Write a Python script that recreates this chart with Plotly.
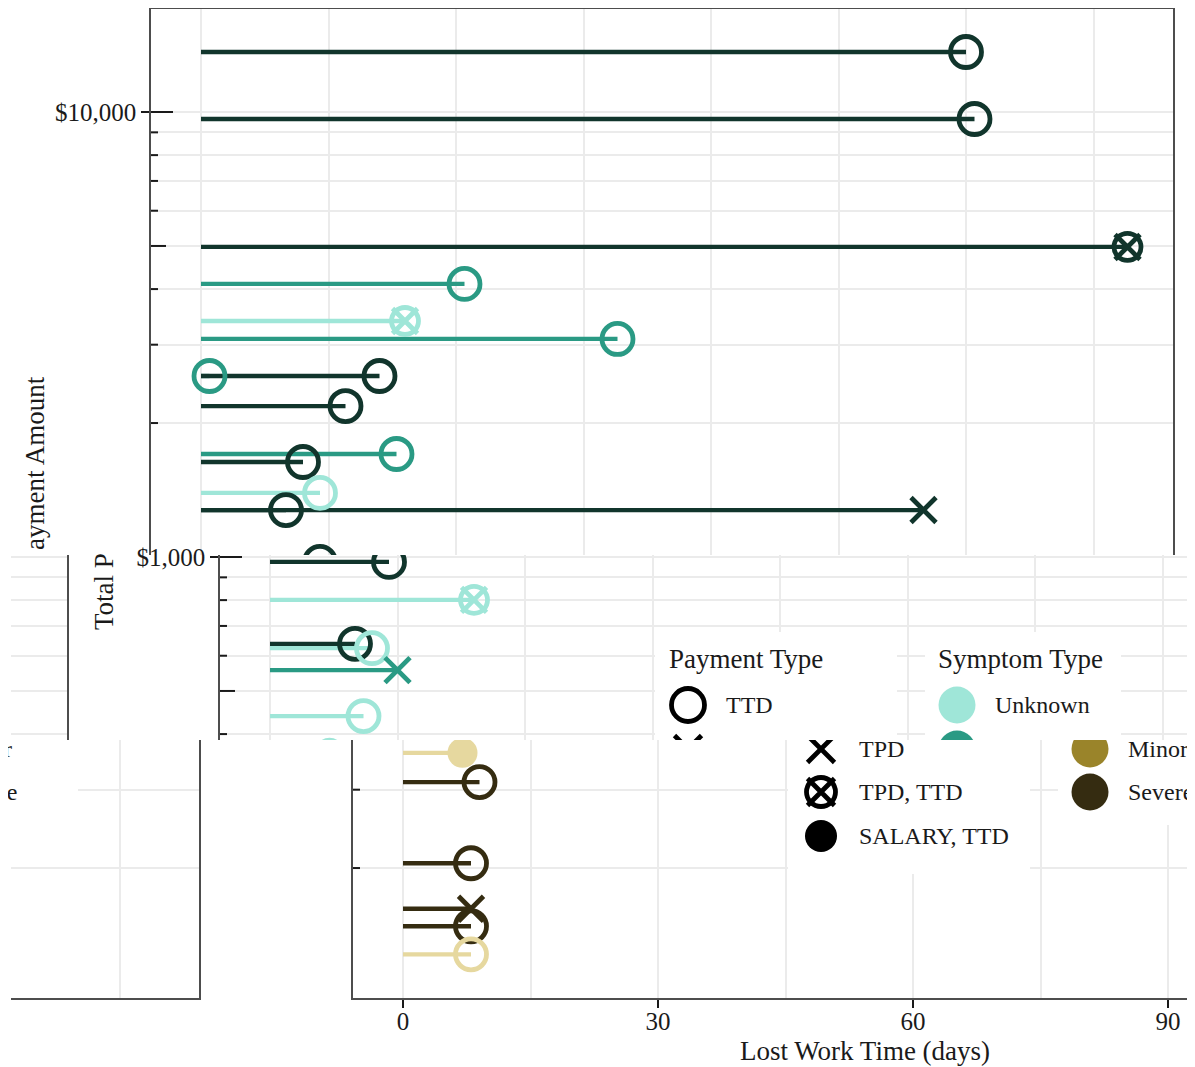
import math
import plotly.graph_objects as go

# ---------------- data ----------------
lost_days = [90, 91, 109, 31, 24, 49, 1, 21, 17, 23, 12, 14, 10, 85,
             14, 24, 10, 12, 15, 11, 7, 9, 8, 8, 8, 8]
payment_amount = [13640, 9645, 4975, 4108, 3391, 3090, 2551, 2551, 2184, 1704,
                  1635, 1393, 1275, 1275, 975, 801, 638, 624, 557, 439,
                  363, 312, 205, 162, 148, 128]
symptom = ["Severe", "Severe", "Severe", "Minor", "Unknown", "Minor", "Minor",
           "Severe", "Severe", "Minor", "Severe", "Unknown", "Severe", "Severe",
           "Severe", "Unknown", "Severe", "Unknown", "Minor", "Unknown",
           "Unknown", "Severe", "Severe", "Severe", "Severe", "Unknown"]
payment_type = ["TTD", "TTD", "TPD, TTD", "TTD", "TPD, TTD", "TTD", "TTD",
                "TTD", "TTD", "TTD", "TTD", "TTD", "TTD", "TPD",
                "TTD", "TPD, TTD", "TTD", "TTD", "TPD", "TTD",
                "SALARY, TTD", "TTD", "TTD", "TPD", "TTD", "TTD"]

symptom_levels = ["Unknown", "Minor", "Severe"]
symptom_colors = ["#9fe6d8", "#2a9a84", "#11352c"]
payment_levels = ["TTD", "TPD", "TPD, TTD", "SALARY, TTD"]
x_tick_vals = [0, 30, 60, 90]
x_tick_text = ["0", "30", "60", "90"]
x_minor_vals = [15, 45, 75, 105]
y_tick_vals = [1000, 10000]
y_tick_text = ["$1,000", "$10,000"]
x_title = "Lost Work Time (days)"
y_title = "Total Payment Amount"
legend_titles = ["Payment Type", "Symptom Type"]

# ---------------- styling / geometry ----------------
W, H = 1195, 1067
OFF = 8  # page offset of the plot div
FONT = "Liberation Serif, Times New Roman, serif"
INK = "#1a1a1a"
GRID = "#ebebeb"
FRAME = "#4d4d4d"
STEM_W = 4.3
RING_W = 4.8


def rot(hexc):
    r, g, b = int(hexc[1:3], 16), int(hexc[3:5], 16), int(hexc[5:7], 16)
    return "#%02x%02x%02x" % (g, b, r)


pal_main = dict(zip(symptom_levels, symptom_colors))
pal_shift = {k: rot(v) for k, v in pal_main.items()}

DAY_PX = 8.5
ZERO_PX = 201
TENK_PY = 112
DECADE_PX = 445


def day_at(px):
    return (px - ZERO_PX) / DAY_PX


def log_at(py):
    return 4 - (py - TENK_PY) / DECADE_PX


def fx(px):
    return (px - OFF) / W


def fy(py):
    return 1 - (py - OFF) / H


panels = [
    dict(i=1, top=9, bot=555, shift=0, dl=151, dr=1173, pal=pal_main, main=True),
    dict(i=2, top=555, bot=740, shift=69, dl=220, dr=1195, pal=pal_main, main=True),
    dict(i=3, top=555, bot=740, shift=69 - 1175, dl=11, dr=67, pal=pal_main, main=False),
    dict(i=4, top=740, bot=998, shift=202, dl=353, dr=1195, pal=pal_shift, main=True),
    dict(i=5, top=740, bot=998, shift=202 - 1176, dl=11, dr=199, pal=pal_shift, main=False),
]

marker_spec = {
    "TTD": [("circle-open", 31, RING_W)],
    "TPD": [("x-thin-open", 25, RING_W)],
    "TPD, TTD": [("circle-open", 27, RING_W), ("x-thin-open", 25, RING_W)],
    "SALARY, TTD": [("circle", 30, 0)],
}

minor_y = [k * 10 ** e for e in range(2, 5) for k in range(2, 10)]


def names(i):
    return ("x" if i == 1 else f"x{i}", "y" if i == 1 else f"y{i}")


fig = go.Figure()
layout = dict(width=W, height=H,
              margin=dict(l=0, r=0, t=0, b=0, pad=0, autoexpand=False),
              autosize=False, paper_bgcolor="white", plot_bgcolor="rgba(0,0,0,0)",
              showlegend=False)

for p in panels:
    i = p["i"]
    xa, ya = names(i)
    xr = [day_at(p["dl"] - p["shift"]), day_at(p["dr"] - p["shift"])]
    yr = [log_at(p["bot"]), log_at(p["top"])]
    xax = dict(domain=[fx(p["dl"]), fx(p["dr"])], range=xr, anchor=ya,
               tickvals=x_tick_vals, ticktext=x_tick_text,
               showgrid=True, gridcolor=GRID, gridwidth=1.6,
               minor=dict(tickvals=x_minor_vals, showgrid=True, gridcolor=GRID,
                          gridwidth=1.6, ticks=""),
               zeroline=False, showticklabels=False, ticks="", fixedrange=True,
               automargin=False, showline=False, linecolor=FRAME, linewidth=1.5)
    yax = dict(type="log", domain=[fy(p["bot"]), fy(p["top"])], range=yr, anchor=xa,
               tickvals=y_tick_vals, ticktext=y_tick_text,
               showgrid=True, gridcolor=GRID, gridwidth=1.6,
               minor=dict(tickvals=minor_y, showgrid=True, gridcolor=GRID,
                          gridwidth=1.6, ticks=""),
               zeroline=False, showticklabels=False, ticks="", fixedrange=True,
               automargin=False, showline=True, linecolor=FRAME, linewidth=1.5)
    if i == 1:
        xax.update(side="top", showline=True)
        yax.update(mirror=True)
    if p["main"]:
        yax.update(ticks="outside", ticklen=8, tickwidth=2, tickcolor=INK,
                   showticklabels=True, tickfont=dict(family=FONT, size=25, color=INK))
    else:
        yax.update(side="right")
    if i in (4, 5):
        xax.update(showline=True)
    if i == 4:
        xax.update(ticks="outside", ticklen=8, tickwidth=2, tickcolor=INK,
                   showticklabels=True, ticklabelstandoff=-8,
                   tickfont=dict(family=FONT, size=25, color=INK))
    layout["xaxis" if i == 1 else f"xaxis{i}"] = xax
    layout["yaxis" if i == 1 else f"yaxis{i}"] = yax

    pal = p["pal"]
    if p["main"]:
        # inside log ticks along the left axis
        L = xr[0]
        tx, ty = [], []
        for e in range(1, 6):
            for k in range(1, 10):
                v = k * 10 ** e
                if yr[0] - 0.02 <= math.log10(v) <= yr[1] + 0.02:
                    ln = 22 if k == 1 else (15 if k == 5 else 7)
                    tx += [L, L + ln / DAY_PX, None]
                    ty += [v, v, None]
        fig.add_trace(go.Scatter(x=tx, y=ty, mode="lines", xaxis=xa, yaxis=ya,
                                 line=dict(color=INK, width=2), hoverinfo="skip"))
    # stems
    for s in symptom_levels:
        sx, sy = [], []
        for d, v, sv in zip(lost_days, payment_amount, symptom):
            if sv == s:
                sx += [0, d, None]
                sy += [v, v, None]
        fig.add_trace(go.Scatter(x=sx, y=sy, mode="lines", xaxis=xa, yaxis=ya,
                                 line=dict(color=pal[s], width=STEM_W),
                                 hoverinfo="skip"))
    # heads
    for pt in payment_levels:
        idx = [j for j, t in enumerate(payment_type) if t == pt]
        cols = [pal[symptom[j]] for j in idx]
        for sym, size, lw in marker_spec[pt]:
            fig.add_trace(go.Scatter(
                x=[lost_days[j] for j in idx], y=[payment_amount[j] for j in idx],
                mode="markers", xaxis=xa, yaxis=ya, hoverinfo="skip",
                marker=dict(symbol=sym, size=size, color=cols,
                            line=dict(width=lw, color=cols))))

# ---------------- manual legend (two bands) ----------------
ROWS = [705, 749, 792, 836]
TITLE_Y = 659
PAY_COL = dict(title=598, sym=619, text=655, box=(586, 828, 632, 874))
SYM_COL = dict(title=867, sym=888, text=924, box=(856, 1052, 632, 825))

bands = [
    dict(i=6, top=555, bot=740, shifts=[69], pal=pal_main),
    dict(i=7, top=740, bot=H + OFF, shifts=[202, 202 - 1176], pal=pal_shift),
]
for b in bands:
    i = b["i"]
    xa, ya = f"x{i}", f"y{i}"
    layout[f"xaxis{i}"] = dict(domain=[0, 1], range=[OFF, W + OFF], anchor=ya,
                               visible=False, fixedrange=True, automargin=False)
    layout[f"yaxis{i}"] = dict(domain=[max(0, fy(b["bot"])), fy(b["top"])],
                               range=[b["bot"], b["top"]], anchor=xa, visible=False,
                               fixedrange=True, automargin=False)
    for sh in b["shifts"]:
        for col in (PAY_COL, SYM_COL):
            x0, x1, y0, y1 = col["box"]
            fig.add_trace(go.Scatter(
                x=[x0 + sh, x1 + sh, x1 + sh, x0 + sh, x0 + sh],
                y=[y0, y0, y1, y1, y0], mode="lines", fill="toself",
                fillcolor="white", line=dict(width=0, color="white"),
                xaxis=xa, yaxis=ya, hoverinfo="skip"))
        for k, pt in enumerate(payment_levels):
            for sym, size, lw in marker_spec[pt]:
                fig.add_trace(go.Scatter(
                    x=[PAY_COL["sym"] + sh], y=[ROWS[k]], mode="markers",
                    xaxis=xa, yaxis=ya, hoverinfo="skip",
                    marker=dict(symbol=sym, size=size + 2, color="black",
                                line=dict(width=lw, color="black"))))
        for k, s in enumerate(symptom_levels):
            fig.add_trace(go.Scatter(
                x=[SYM_COL["sym"] + sh], y=[ROWS[k]], mode="markers",
                xaxis=xa, yaxis=ya, hoverinfo="skip",
                marker=dict(symbol="circle", size=37, color=b["pal"][s],
                            line=dict(width=0))))


def ann(text, px, py, size, xanchor="center", angle=0):
    return dict(text=text, x=fx(px), y=fy(py), xref="paper", yref="paper",
                showarrow=False, xanchor=xanchor, yanchor="middle", textangle=angle,
                font=dict(family=FONT, size=size, color=INK))


anns = []
# legend text in the middle band (shift 69)
sh = 69
anns.append(ann(legend_titles[0], PAY_COL["title"] + sh, TITLE_Y, 27, "left"))
anns.append(ann(legend_titles[1], SYM_COL["title"] + sh, TITLE_Y, 27, "left"))
anns.append(ann(payment_levels[0], PAY_COL["text"] + sh, ROWS[0], 24, "left"))
anns.append(ann(symptom_levels[0], SYM_COL["text"] + sh, ROWS[0], 24, "left"))
# legend text in the lower band (shift 202)
sh = 202
for k in (1, 2, 3):
    anns.append(ann(payment_levels[k], PAY_COL["text"] + sh, ROWS[k], 24, "left"))
for k in (1, 2):
    anns.append(ann(symptom_levels[k], SYM_COL["text"] + sh, ROWS[k], 24, "left"))
# wrapped remainder of the symptom labels at the left edge
sh = 202 - 1176
for k in (1, 2):
    anns.append(ann(symptom_levels[k], SYM_COL["text"] + sh, ROWS[k], 24, "left"))
# axis titles (split where the bands cut them)
anns.append(ann(y_title[7:], 35, 463, 27, angle=-90))
anns.append(ann(y_title[:7], 104, 592, 27, angle=-90))
anns.append(ann(x_title, 865, 1051, 27))
layout["annotations"] = anns

fig.update_layout(**layout)
fig.write_html("out.html")
